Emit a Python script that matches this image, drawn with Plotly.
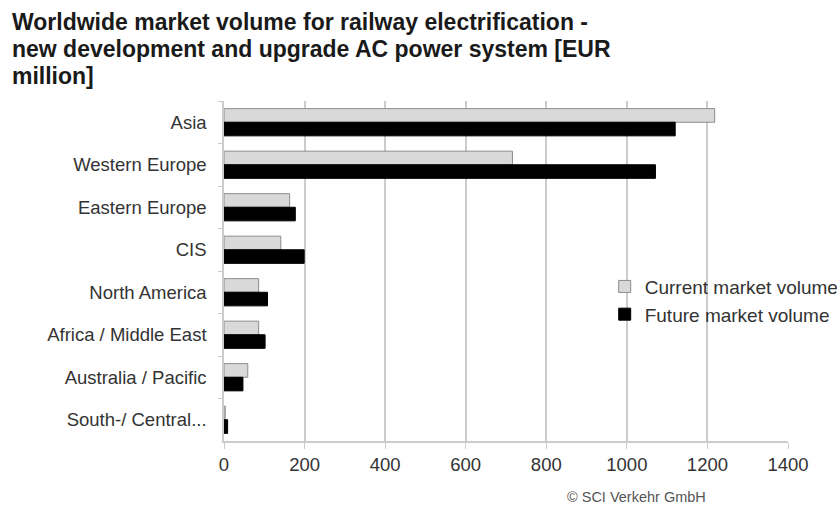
import plotly.graph_objects as go

regions = ["Asia", "Western Europe", "Eastern Europe", "CIS", "North America",
           "Africa / Middle East", "Australia / Pacific", "South-/ Central..."]
current_volume = [1218, 716, 163, 141, 86, 86, 59, 3]
future_volume = [1120, 1071, 177, 199, 108, 102, 47, 9]
x_ticks = [0, 200, 400, 600, 800, 1000, 1200, 1400]

title_lines = ["Worldwide market volume for railway electrification -",
               "new development and upgrade AC power system [EUR",
               "million]"]

font_family = "Liberation Sans, Arial, sans-serif"

fig = go.Figure()
fig.add_trace(go.Bar(
    y=regions, x=current_volume, orientation="h", name="Current market volume",
    marker=dict(color="#d9d9d9", line=dict(color="#8c8c8c", width=1)),
))
fig.add_trace(go.Bar(
    y=regions, x=future_volume, orientation="h", name="Future market volume",
    marker=dict(color="#000000", line=dict(color="#000000", width=1)),
))

# Title set line by line for tighter leading than the default
title_annotations = [
    dict(text=line, xref="paper", yref="paper", x=-0.38, y=1 + (101 - (22 + 27 * i)) / 340,
         xanchor="left", yanchor="middle", align="left", showarrow=False,
         font=dict(family=font_family, size=23, color="#1a1a1a", weight="bold"))
    for i, line in enumerate(title_lines)
]

fig.update_layout(
    width=837, height=508,
    margin=dict(l=224, r=49, t=101, b=67, autoexpand=False),
    paper_bgcolor="white", plot_bgcolor="white",
    barmode="group", bargap=0.36, bargroupgap=0.0,
    font=dict(family=font_family, size=18.5, color="#333333"),
    showlegend=True,
    legend=dict(x=0.675, y=0.51, xanchor="left", yanchor="top",
                bgcolor="rgba(0,0,0,0)", traceorder="normal",
                font=dict(size=19, color="#333333"), itemwidth=30,
                tracegroupgap=2),
    annotations=title_annotations + [
        dict(text="© SCI Verkehr GmbH", xref="paper", yref="paper",
             x=0.858, y=-0.165, xanchor="right", yanchor="middle",
             showarrow=False, font=dict(size=14.5, color="#555555")),
    ],
)

fig.update_xaxes(
    range=[0, 1400], tickvals=x_ticks, showgrid=True, gridcolor="#cccccc", gridwidth=1.5,
    showline=True, linecolor="#cccccc", linewidth=2, ticks="outside", ticklen=6,
    tickcolor="#cccccc", zeroline=False, tickfont=dict(size=18.5, color="#333333"),
)
fig.update_yaxes(
    autorange="reversed", showline=True, linecolor="#cccccc", linewidth=1.5,
    ticks="outside", ticklen=4, tickcolor="#cccccc", tickson="boundaries",
    showgrid=False, ticklabelstandoff=12, tickfont=dict(size=18.5, color="#333333"),
)

fig.write_html("out.html")
